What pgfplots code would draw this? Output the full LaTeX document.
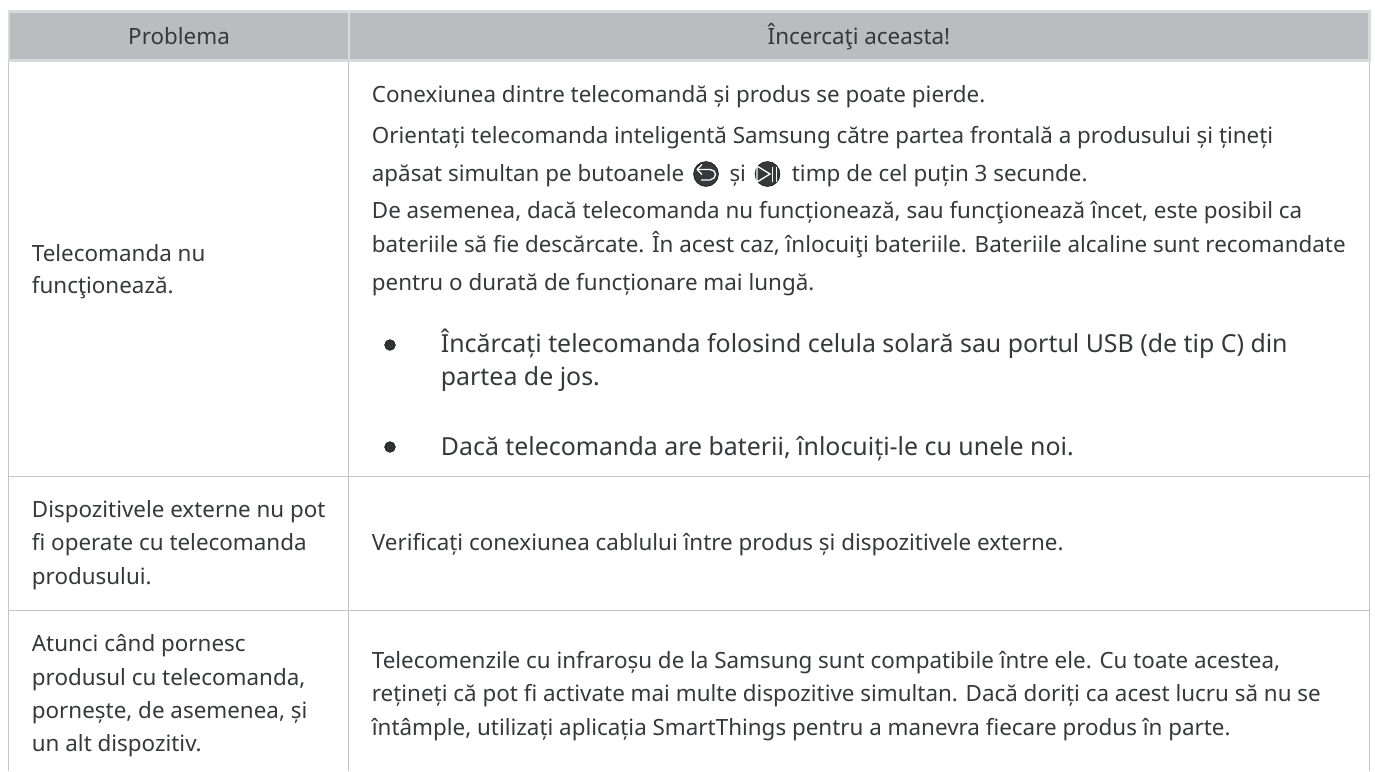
\documentclass[border=0pt]{standalone}
\usepackage{pgfplots}
\pgfplotsset{compat=1.18}
\usepackage{fontspec}
\setmainfont{Noto Sans}
\definecolor{hdr}{HTML}{BBBCBF}
\definecolor{hl}{HTML}{D8D9DB}
\definecolor{gl}{HTML}{C4C5C7}
\definecolor{tx}{HTML}{36383B}
\newcommand{\T}[3]{\node[anchor=base west,inner sep=0pt,text=tx,font=\fontsize{22.4}{22.4}\selectfont] at (axis cs:#1,#2) {#3};}
\newcommand{\B}[3]{\node[anchor=base west,inner sep=0pt,text=tx,font=\fontsize{24.9}{24.9}\selectfont] at (axis cs:#1,#2) {#3};}
\begin{document}
\begin{tikzpicture}[x=1pt,y=1pt]
\begin{axis}[
 at={(0,0)},anchor=south west,
 width=1375pt,height=771pt,scale only axis,
 xmin=0,xmax=1375,ymin=0,ymax=771,y dir=reverse,
 axis lines=none,ticks=none,clip=false,clip mode=individual]
\path (axis cs:0,0) -- (axis cs:1375,771);
\addplot[draw=none,fill=hl] coordinates {(7.5,10)(1371,10)(1371,62)(7.5,62)} --cycle;
\addplot[draw=none,fill=hdr] coordinates {(10,12.7)(1368.3,12.7)(1368.3,59.3)(10,59.3)} --cycle;
\addplot[hl,line width=2.6pt] coordinates {(348.8,12)(348.8,60)};
\addplot[gl,line width=1.3pt] coordinates {(8.5,62)(8.5,771)};
\addplot[gl,line width=1.3pt] coordinates {(348.5,62)(348.5,771)};
\addplot[gl,line width=1.3pt] coordinates {(1369.3,62)(1369.3,771)};
\addplot[gl,line width=1.3pt] coordinates {(8,476.7)(1370,476.7)};
\addplot[gl,line width=1.3pt] coordinates {(8,610.5)(1370,610.5)};
\addplot[only marks,mark=*,mark size=5.4pt,mark options={draw=none,fill=tx!90!black}] coordinates {(390,345)(390,447)};
% remote-control button icons
\addplot[only marks,mark=*,mark size=12.5pt,mark options={draw=none,fill=tx}] coordinates {(706,174)(767.5,174)};
\addplot[white,line width=1.3pt,line join=round] coordinates {(702,164.5)(697,169.5)(702,174.5)};
\addplot[white,line width=1.3pt,line join=round] coordinates {(697,169.5)(710,169.5)(714,171)(715.5,174.5)(714,178)(710,180)(701,180)};
\addplot[white,line width=1.3pt,line join=miter] coordinates {(757,166)(770,174)(757,182)(757,166)};
\addplot[white,line width=1.3pt] coordinates {(772.5,166.5)(772.5,181.5)};
\addplot[white,line width=1.3pt] coordinates {(776.5,166.5)(776.5,181.5)};
\T{128}{44}{Problema}
\T{767.5}{44}{Încercaţi aceasta!}
\T{31.7}{261}{Telecomanda nu}
\T{31.7}{293.5}{funcţionează.}
\T{31.7}{517}{Dispozitivele externe nu pot}
\T{31.7}{550.7}{fi operate cu telecomanda}
\T{31.7}{584}{produsului.}
\T{31.7}{651.7}{Atunci când pornesc}
\T{31.7}{685}{produsul cu telecomanda,}
\T{31.7}{718}{pornește, de asemenea, și}
\T{31.7}{751.7}{un alt dispozitiv.}
\T{371.7}{102}{Conexiunea dintre telecomandă și produs se poate pierde.}
\T{371.7}{143}{Orientați telecomanda inteligentă Samsung către partea frontală a produsului și țineți}
\T{371.7}{181}{apăsat simultan pe butoanele}
\T{729.3}{181}{și}
\T{791.7}{181}{timp de cel puțin 3 secunde.}
\T{371.7}{218}{De asemenea, dacă telecomanda nu funcționează, sau funcţionează încet, este posibil ca}
\T{371.7}{252}{bateriile să fie descărcate. În acest caz, înlocuiţi bateriile. Bateriile alcaline sunt recomandate}
\T{371.7}{290}{pentru o durată de funcționare mai lungă.}
\B{440.7}{352}{Încărcați telecomanda folosind celula solară sau portul USB (de tip C) din}
\B{440.7}{385}{partea de jos.}
\B{440.7}{455}{Dacă telecomanda are baterii, înlocuiți-le cu unele noi.}
\T{371.7}{550.7}{Verificați conexiunea cablului între produs și dispozitivele externe.}
\T{371.7}{668}{Telecomenzile cu infraroșu de la Samsung sunt compatibile între ele. Cu toate acestea,}
\T{371.7}{701.7}{rețineți că pot fi activate mai multe dispozitive simultan. Dacă doriți ca acest lucru să nu se}
\T{371.7}{735}{întâmple, utilizați aplicația SmartThings pentru a manevra fiecare produs în parte.}
\end{axis}
\end{tikzpicture}
\end{document}
